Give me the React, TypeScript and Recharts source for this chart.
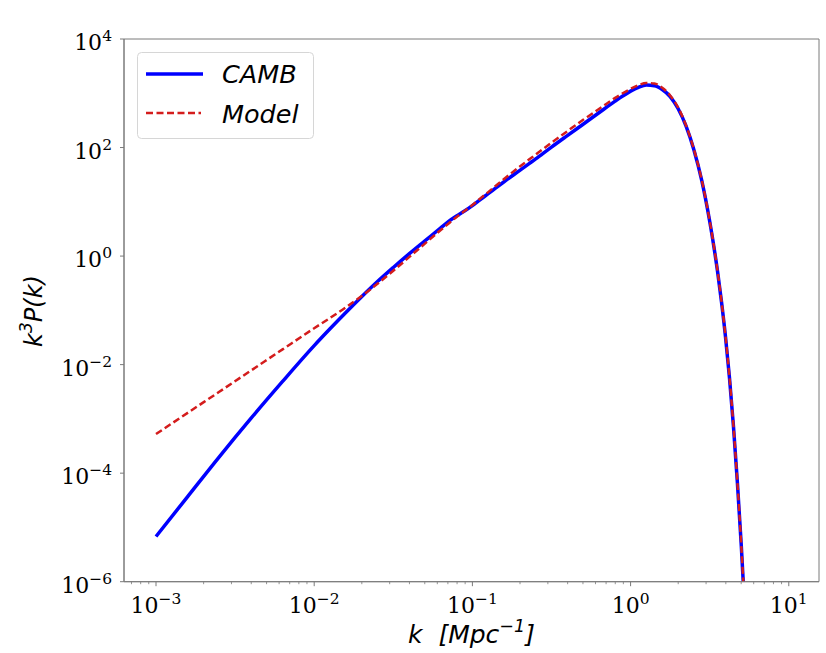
import React from 'react';
import { LineChart, Line, XAxis, YAxis, Legend, ReferenceArea } from 'recharts';

// k [Mpc^-1]
const kValues = [
  0.001, 0.001585, 0.002512, 0.003981, 0.00631, 0.01, 0.01259, 0.01585, 0.01995, 0.02512,
  0.03162, 0.03981, 0.05012, 0.0631, 0.07079, 0.07943, 0.08913, 0.1, 0.1122, 0.1259,
  0.1413, 0.1585, 0.1995, 0.2512, 0.3162, 0.3981, 0.5012, 0.631, 0.7943, 0.8913,
  1.0, 1.122, 1.259, 1.413, 1.585, 1.778, 1.995, 2.239, 2.512, 2.818,
  3.162, 3.35, 3.548, 3.758, 3.981, 4.217, 4.467, 4.732, 5.012, 5.309,
];

// k^3 P(k) from CAMB
const cambValues = [
  6.8e-6, 3.7e-5, 2.0e-4, 1.02e-3, 4.9e-3, 0.0224, 0.0457, 0.0912, 0.178, 0.339,
  0.617, 1.1, 1.91, 3.31, 4.37, 5.5, 6.76, 8.51, 11.0, 14.1,
  18.2, 23.4, 38.0, 61.7, 102, 166, 269, 437, 708, 891,
  1096, 1288, 1413, 1380, 1175, 871, 525, 251, 91.2, 24.5,
  4.37, 1.585, 0.513, 0.141, 0.0324, 5.75e-3, 7.41e-4, 6.76e-5, 4.47e-6, 2.0e-7,
];

// k^3 P(k) from the model
const modelValues = [
  5.25e-4, 1.29e-3, 3.16e-3, 7.76e-3, 0.0191, 0.0468, 0.0724, 0.1135, 0.184, 0.309,
  0.537, 0.955, 1.7, 3.02, 3.98, 5.25, 6.76, 8.71, 11.5, 15.1,
  20.0, 26.3, 44.7, 74.1, 123, 200, 324, 513, 813, 1000,
  1202, 1413, 1549, 1514, 1259, 912, 550, 257, 93.3, 25.1,
  4.47, 1.62, 0.525, 0.145, 0.0331, 5.89e-3, 7.59e-4, 6.92e-5, 4.57e-6, 2.04e-7,
];

const xMajorTicks = [0.001, 0.01, 0.1, 1, 10];
const xMajorLabels = ['\u22123', '\u22122', '\u22121', '0', '1'];
const xMinorTicks = [
  0.0007, 0.0008, 0.0009,
  0.002, 0.003, 0.004, 0.005, 0.006, 0.007, 0.008, 0.009,
  0.02, 0.03, 0.04, 0.05, 0.06, 0.07, 0.08, 0.09,
  0.2, 0.3, 0.4, 0.5, 0.6, 0.7, 0.8, 0.9,
  2, 3, 4, 5, 6, 7, 8, 9,
];
const yTicks = [1e-6, 1e-4, 1e-2, 1, 1e2, 1e4];
const yTickLabels = ['\u22126', '\u22124', '\u22122', '0', '2', '4'];

const xDomain = [Math.pow(10, -3.2023), Math.pow(10, 1.191)];
const yDomain = [1e-6, 1e4];

const data = kValues.map((k, i) => ({ k, camb: cambValues[i], model: modelValues[i] }));

const SPINE = '#7a7a7a';
const SERIF = 'DejaVu Serif';
const SANS = 'DejaVu Sans';

const findIdx = (arr: number[], v: number) =>
  arr.findIndex((t) => Math.abs(Math.log10(t) - Math.log10(v)) < 1e-6);

const XTick = (props: any) => {
  const { x, y, payload } = props;
  const idx = findIdx(xMajorTicks, payload.value);
  if (idx < 0) {
    return <line x1={x} x2={x} y1={y} y2={y + 2.5} stroke={SPINE} strokeWidth={0.8} />;
  }
  return (
    <g>
      <line x1={x} x2={x} y1={y} y2={y + 4.5} stroke={SPINE} strokeWidth={1} />
      <text x={x} y={y + 31.5} textAnchor="middle" fontFamily={SERIF} fontSize={22} fill="#000">
        10
        <tspan dy={-9} fontSize={15.5}>{xMajorLabels[idx]}</tspan>
      </text>
    </g>
  );
};

const YTick = (props: any) => {
  const { x, y, payload } = props;
  const idx = findIdx(yTicks, payload.value);
  if (idx < 0) return null;
  return (
    <g>
      <line x1={x - 4} x2={x} y1={y} y2={y} stroke={SPINE} strokeWidth={1} />
      <text x={x - 12} y={y + 11} textAnchor="end" fontFamily={SERIF} fontSize={22} fill="#000">
        10
        <tspan dy={-9} fontSize={15.5}>{yTickLabels[idx]}</tspan>
      </text>
    </g>
  );
};

const XLabel = () => (
  <text x={471.5} y={643} textAnchor="middle" fontFamily={SANS} fontStyle="italic" fontSize={25} fill="#000">
    {'k\u00a0\u00a0[Mpc'}
    <tspan dy={-11} fontSize={17.5}>{'\u22121'}</tspan>
    <tspan dy={11}>]</tspan>
  </text>
);

const YLabel = () => {
  const cx = 42;
  const cy = 311;
  return (
    <text
      x={cx}
      y={cy}
      transform={`rotate(-90, ${cx}, ${cy})`}
      textAnchor="middle"
      fontFamily={SANS}
      fontStyle="italic"
      fontSize={24}
      fill="#000"
    >
      k
      <tspan dy={-10} fontSize={17}>3</tspan>
      <tspan dy={10}>P(k)</tspan>
    </text>
  );
};

const TitleLabel = () => (
  <text x={471} y={31} textAnchor="middle" fontFamily={SANS} fontStyle="italic" fontSize={31} fill="#000">
    {'Uniform/Dex \u2212 Weighted Power Spectrum'}
  </text>
);

const LegendBox = () => (
  <svg width={178} height={88} style={{ display: 'block' }}>
    <rect x={0.5} y={0.5} width={176} height={86} rx={4} ry={4} fill="#fff" fillOpacity={0.8} stroke="#d6d6d6" strokeWidth={1} />
    <line x1={9} x2={66} y1={22} y2={22} stroke="#0000ff" strokeWidth={3.5} />
    <line x1={9} x2={64} y1={61} y2={61} stroke="#d41c1c" strokeWidth={2.5} strokeDasharray="7 3.5" />
    <text x={85} y={31} fontFamily={SANS} fontStyle="italic" fontSize={25.5} fill="#000">CAMB</text>
    <text x={85} y={70.5} fontFamily={SANS} fontStyle="italic" fontSize={25.5} fill="#000">Model</text>
  </svg>
);

export default function App() {
  return (
    <div style={{ position: 'absolute', left: 0, top: 0, width: 826, height: 653, background: '#fff' }}>
      <LineChart width={826} height={653} data={data} margin={{ top: 39, right: 7, bottom: 0.3, left: 0 }}>
        <XAxis
          dataKey="k"
          type="number"
          scale="log"
          domain={xDomain}
          allowDataOverflow
          ticks={[...xMajorTicks, ...xMinorTicks]}
          interval={0}
          tick={<XTick />}
          tickLine={false}
          tickSize={0}
          tickMargin={0}
          height={71}
          axisLine={{ stroke: SPINE, strokeWidth: 1 }}
          label={{ content: <XLabel /> }}
        />
        <XAxis
          xAxisId="top"
          dataKey="k"
          type="number"
          scale="log"
          domain={xDomain}
          allowDataOverflow
          orientation="top"
          height={0}
          tick={false}
          tickLine={false}
          axisLine={false}
          label={{ content: <TitleLabel /> }}
        />
        <YAxis
          type="number"
          scale="log"
          domain={yDomain}
          allowDataOverflow
          ticks={yTicks}
          interval={0}
          tick={<YTick />}
          tickLine={false}
          tickSize={0}
          tickMargin={0}
          width={124}
          axisLine={{ stroke: SPINE, strokeWidth: 1 }}
          label={{ content: <YLabel /> }}
        />
        <ReferenceArea
          x1={xDomain[0]}
          x2={xDomain[1]}
          y1={yDomain[0]}
          y2={yDomain[1]}
          fill="none"
          fillOpacity={0}
          stroke={SPINE}
          strokeWidth={1}
          ifOverflow="visible"
        />
        <Legend
          layout="horizontal"
          verticalAlign="middle"
          align="center"
          content={<LegendBox />}
          wrapperStyle={{ position: 'absolute', left: 137, top: 52, width: 178, height: 88, margin: 0, padding: 0 }}
        />
        <Line
          type="monotone"
          dataKey="camb"
          name="CAMB"
          stroke="#0000ff"
          strokeWidth={3.5}
          dot={false}
          activeDot={false}
          isAnimationActive={false}
        />
        <Line
          type="monotone"
          dataKey="model"
          name="Model"
          stroke="#d41c1c"
          strokeWidth={2.5}
          strokeDasharray="7 3.5"
          dot={false}
          activeDot={false}
          isAnimationActive={false}
        />
      </LineChart>
    </div>
  );
}
